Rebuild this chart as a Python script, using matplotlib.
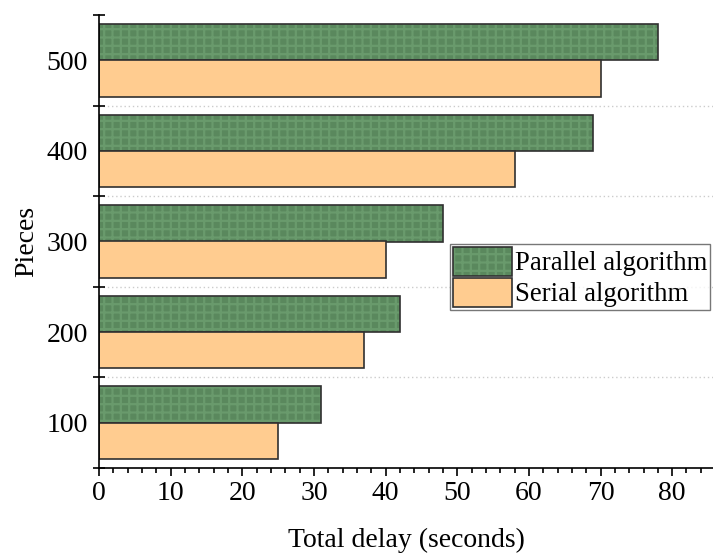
import matplotlib
matplotlib.use("Agg")
import matplotlib.pyplot as plt
from matplotlib.patches import Patch
from matplotlib.legend_handler import HandlerTuple
import numpy as np

pieces = ["100", "200", "300", "400", "500"]
parallel = [31, 42, 48, 69, 78]
serial = [25, 37, 40, 58, 70]

plt.rcParams['font.family'] = ['Liberation Serif', 'DejaVu Serif']
plt.rcParams['hatch.linewidth'] = 1.6

green = '#5a885d'
green_light = '#699a6c'
orange = '#ffcc90'
edge = '#303030'

fig = plt.figure(figsize=(7.13, 5.58), dpi=100)
ax = fig.add_axes([99 / 713, 90 / 558, 614 / 713, 453 / 558])

y = np.arange(1, len(pieces) + 1)
h = 0.4

# parallel bars: plaid fill first, then outline on top
ax.barh(y + h / 2, parallel, height=h, color=green, edgecolor=green_light,
        hatch='++', linewidth=0, zorder=2)
ax.barh(y + h / 2, parallel, height=h, fill=False, edgecolor=edge,
        linewidth=1.2, zorder=3)
ax.barh(y - h / 2, serial, height=h, color=orange, edgecolor=edge,
        linewidth=1.2, zorder=3)

ax.set_xlim(0, 85.7)
ax.set_ylim(0.5, 5.5)

ax.set_xticks(np.arange(0, 81, 10))
ax.set_xticks(np.arange(0, 86, 2), minor=True)
ax.set_yticks(np.arange(0.5, 5.6, 1))
ax.set_yticklabels([])
ax.set_yticks(y, minor=True)
ax.set_yticklabels(pieces, minor=True)

ax.tick_params(axis='x', which='major', direction='out', length=6, width=1.2,
               labelsize=20, pad=3)
ax.tick_params(axis='x', which='minor', direction='out', length=3.5, width=1.2)
ax.tick_params(axis='y', which='major', direction='inout', length=8, width=1.2)
ax.tick_params(axis='y', which='minor', length=0, labelsize=20, pad=8)

for s in ['top', 'right']:
    ax.spines[s].set_visible(False)
for s in ['left', 'bottom']:
    ax.spines[s].set_linewidth(1.2)
    ax.spines[s].set_zorder(4)

for g in np.arange(1.5, 5.0, 1):
    ax.axhline(g, color='#cccccc', linestyle=(0, (1, 2)), linewidth=1, zorder=1)

ax.set_xlabel('Total delay (seconds)', fontsize=20, labelpad=16)
ax.set_ylabel('Pieces', fontsize=20, labelpad=5)

par_handle = (Patch(facecolor=green, edgecolor=green_light, hatch='++', linewidth=0),
              Patch(fill=False, edgecolor=edge, linewidth=1.2))
ser_handle = Patch(facecolor=orange, edgecolor=edge, linewidth=1.2)
leg = ax.legend([par_handle, ser_handle], ['Parallel algorithm', 'Serial algorithm'],
                handler_map={tuple: HandlerTuple(ndivide=1, pad=0)},
                loc='upper left', bbox_to_anchor=(0.572, 0.4945),
                prop={'size': 19.3}, frameon=True, fancybox=False, borderpad=0.1,
                handlelength=2.2, handleheight=1.3, handletextpad=0.12,
                labelspacing=0.05, borderaxespad=0)
leg.get_frame().set_edgecolor('#555555')
leg.get_frame().set_linewidth(1.0)

fig.savefig('out.png', dpi=100)
